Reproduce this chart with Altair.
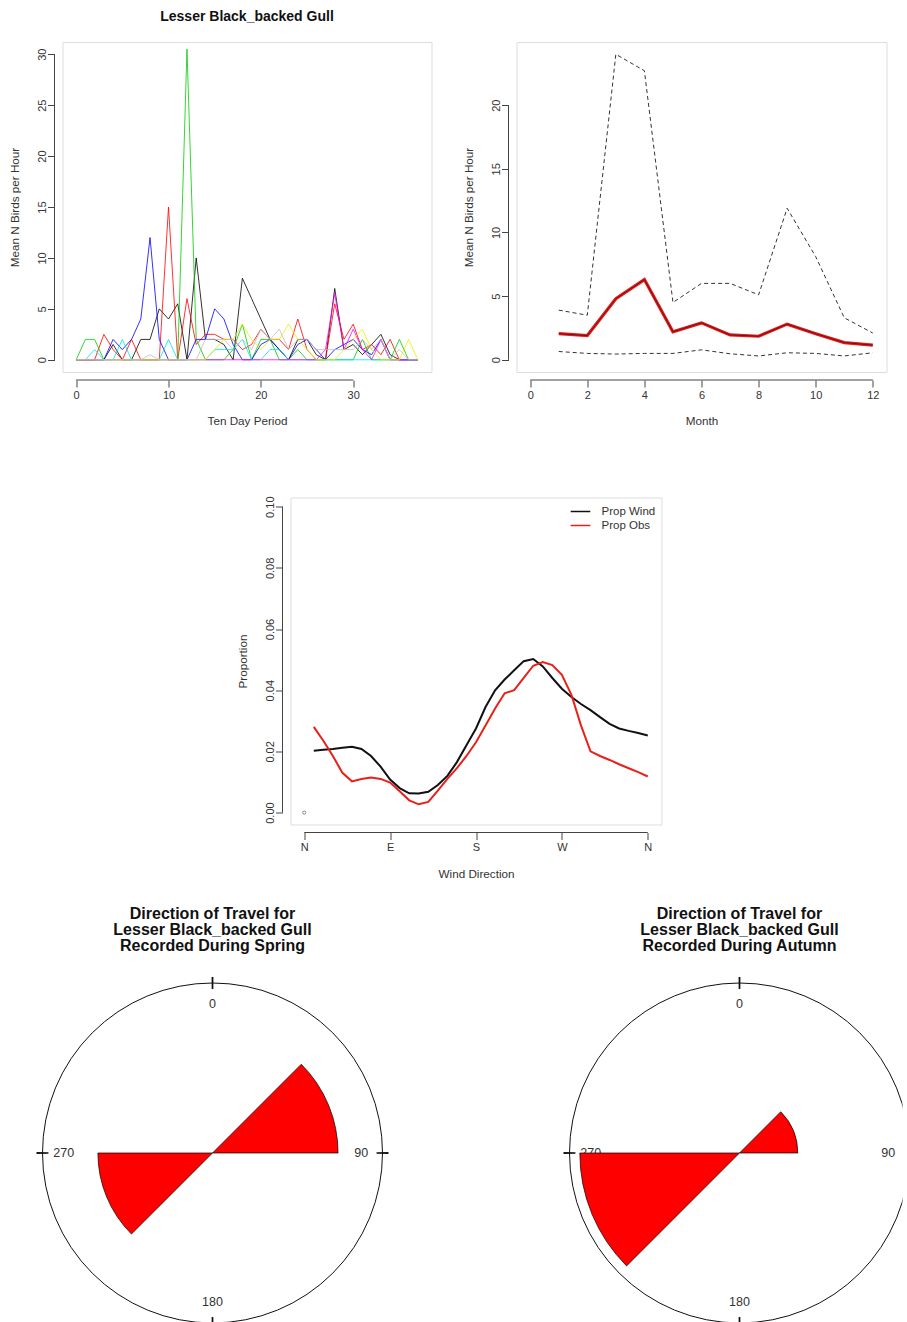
import altair as alt
import pandas as pd
import numpy as np

FONT = "Liberation Sans"
TXT = "#333333"
AXC = "#444444"

# ---------------- Panel 1: ten-day periods ----------------
ten_day = list(range(38))
tl_names = ["s1", "s2", "s3", "s4", "s5", "s6", "s7", "s8"]
tl_colors = ["#000000", "#FF0000", "#00CD00", "#0000FF", "#00E5EE", "#FF00FF", "#EEEE00", "#BEBEBE"]
s_black = [0, 0, 0, 0, 1.5, 0, 0, 2, 2, 5, 4, 5.5, 0, 10, 2, 2, 1.5, 0, 8, 6, 4, 2, 1, 0, 2, 2, 0.5, 0, 7, 1, 1.5, 0.5, 1.5, 2.5, 0.5, 0, 0, 0]
s_red = [0, 0, 0, 2.5, 1, 0, 2, 0, 0, 0, 15, 0, 6, 1.5, 2.5, 2.5, 2, 2, 1, 1.5, 3, 2, 2, 1, 4, 1, 0, 0, 5.5, 2, 3.5, 1, 1.5, 0.5, 2, 0, 0, 0]
s_green = [0, 2, 2, 0, 0, 0, 0, 0, 0, 0, 0, 0, 30.5, 2, 0, 0, 0, 1, 3.5, 0, 2, 2, 0, 0, 1, 0, 0, 0, 0, 0, 0, 2, 0, 0, 0, 2, 0, 0]
s_blue = [0, 0, 0, 0, 2, 1, 2, 4, 12, 2, 0, 0, 0, 2, 2, 5, 4, 1.5, 0, 0, 1.5, 2, 1, 0, 1.5, 2, 1, 0, 1, 1.5, 2, 1, 0.5, 2, 0, 0, 0, 0]
s_cyan = [0, 0, 1, 0, 0, 2, 0, 0, 0, 0, 2, 0, 0, 0, 0, 1, 1, 1, 2, 0, 0, 1, 1, 0, 0, 0, 0, 0, 0, 0, 0, 0, 0, 0, 0, 0, 0, 0]
s_magenta = [0, 0, 0, 0, 0, 0, 0, 0, 0, 0, 0, 0, 0, 0, 0, 0, 0, 0, 0, 0, 0, 0, 0, 0, 0, 0, 0, 1, 6.5, 1, 3, 1, 0, 2, 0, 0, 0, 0]
s_yellow = [0, 0, 0, 0, 0, 0, 0, 0, 0, 0, 0, 0, 0, 0, 0, 1, 2, 2, 3.5, 2, 1, 2, 2, 3.5, 2, 1, 0, 0, 0, 1, 2, 3, 1, 0, 0, 0, 2, 0]
s_gray = [0, 0, 0, 0, 0, 0, 0, 0, 0.5, 0, 0, 0, 0, 0, 2, 2, 2, 1, 2, 1, 3, 2, 3, 1, 2, 2, 1, 1, 1, 1, 1, 2, 1, 2, 0, 1, 0, 0]
tl_series = [s_black, s_red, s_green, s_blue, s_cyan, s_magenta, s_yellow, s_gray]

# ---------------- Panel 2: months ----------------
months = list(range(1, 13))
m_upper = [3.9, 3.5, 24.0, 22.7, 4.5, 6.0, 6.0, 5.1, 11.9, 8.1, 3.3, 2.1]
m_mean = [2.05, 1.9, 4.8, 6.3, 2.2, 2.9, 1.95, 1.85, 2.8, 2.05, 1.35, 1.15]
m_lower = [0.65, 0.5, 0.45, 0.5, 0.5, 0.78, 0.47, 0.3, 0.55, 0.5, 0.3, 0.55]

# ---------------- Panel 3: wind direction ----------------
wind_dir = list(range(10, 361, 10))
prop_wind = [0.0202, 0.0205, 0.0208, 0.0212, 0.0215, 0.0208, 0.0185, 0.0150, 0.0108, 0.0080,
             0.0063, 0.0062, 0.0068, 0.0090, 0.0120, 0.0165, 0.0220, 0.0275, 0.0345, 0.0400,
             0.0435, 0.0465, 0.0495, 0.0502, 0.0478, 0.0440, 0.0405, 0.0378, 0.0355, 0.0335,
             0.0312, 0.0290, 0.0275, 0.0267, 0.0260, 0.0252]
prop_obs = [0.0280, 0.0235, 0.0185, 0.0130, 0.0102, 0.0110, 0.0115, 0.0110, 0.0098, 0.0070,
            0.0040, 0.0027, 0.0035, 0.0072, 0.0110, 0.0145, 0.0185, 0.0230, 0.0285, 0.0340,
            0.0390, 0.0400, 0.0440, 0.0480, 0.0492, 0.0482, 0.0450, 0.0385, 0.0285, 0.0200,
            0.0185, 0.0172, 0.0158, 0.0145, 0.0132, 0.0118]
wind_names = ["Prop Wind", "Prop Obs"]
wind_colors = ["#111111", "#E8201A"]
compass_ticks = [0, 90, 180, 270, 360]

# ---------------- Panels 4/5: rose diagrams ----------------
bin_starts = [0, 45, 90, 135, 180, 225, 270, 315]
bin_width = 45
spring_counts = [0, 6, 0, 0, 0, 5, 0, 0]
autumn_counts = [0, 2, 0, 0, 0, 15, 0, 0]
rose_angles = [0, 90, 180, 270]
rose_labels = ["0", "90", "180", "270"]


def x_axis(values, title, fmt=None, label_expr=None):
    kw = dict(values=values, title=title, offset=8, tickSize=7, tickColor=AXC, tickWidth=1,
              domain=False, grid=False, labelPadding=2, labelFont=FONT, labelFontSize=11,
              labelColor=TXT, labelFlush=False, labelOverlap=False, labelAngle=0,
              titleFont=FONT, titleFontSize=11.7, titleFontWeight="normal", titleColor=TXT,
              titlePadding=15.5)
    if fmt:
        kw["format"] = fmt
    if label_expr:
        kw["labelExpr"] = label_expr
    return alt.Axis(**kw)


def y_axis(values, title, fmt=None):
    kw = dict(values=values, title=title, offset=8, tickSize=7, tickColor=AXC, tickWidth=1,
              domain=False, grid=False, labelPadding=0, labelFont=FONT, labelFontSize=11,
              labelColor=TXT, labelFlush=False, labelOverlap=False, labelAngle=-90,
              labelAlign="center", labelBaseline="bottom",
              titleFont=FONT, titleFontSize=11.7, titleFontWeight="normal", titleColor=TXT,
              titlePadding=16)
    if fmt:
        kw["format"] = fmt
    return alt.Axis(**kw)


one_row = pd.DataFrame({"k": [0]})


def axis_lines(xvals, yvals, h):
    xr = alt.Chart(one_row).mark_rule(color=AXC, strokeWidth=1).encode(
        x=alt.datum(xvals[0]), x2=alt.datum(xvals[-1]), y=alt.value(h + 8))
    yr = alt.Chart(one_row).mark_rule(color=AXC, strokeWidth=1).encode(
        y=alt.datum(yvals[0]), y2=alt.datum(yvals[-1]), x=alt.value(-8))
    return [xr, yr]


def indep(c):
    return c.resolve_scale(color="independent", theta="independent", radius="independent").resolve_legend(
        color="independent")


# ---------- Panel 1 ----------
rows = []
for name, vals in zip(tl_names, tl_series):
    for p, v in zip(ten_day, vals):
        rows.append({"period": p, "value": v, "tseries": name})
tl_df = pd.DataFrame(rows)
H1 = 330
tl_xt = [0, 10, 20, 30]
tl_yt = [0, 5, 10, 15, 20, 25, 30]
tl_lines = alt.Chart(tl_df).mark_line(strokeWidth=1, opacity=0.8).encode(
    x=alt.X("period:Q", scale=alt.Scale(domain=[-1.48, 38.48], nice=False, zero=False),
            axis=x_axis(tl_xt, "Ten Day Period")),
    y=alt.Y("value:Q", scale=alt.Scale(domain=[-1.2, 31.2], nice=False, zero=False),
            axis=y_axis(tl_yt, "Mean N Birds per Hour")),
    color=alt.Color("tseries:N", scale=alt.Scale(domain=tl_names, range=tl_colors), legend=None),
)
tl = alt.layer(tl_lines, *axis_lines(tl_xt, tl_yt, H1)).properties(
    width=369, height=H1,
    title=alt.TitleParams("Lesser Black_backed Gull", font=FONT, fontSize=14, fontWeight="bold",
                          color="#111111", anchor="middle", frame="group", offset=18),
)

# ---------- Panel 2 ----------
tr_df = pd.DataFrame({
    "month": months * 3,
    "value": m_upper + m_mean + m_lower,
    "kind": ["upper"] * 12 + ["mean"] * 12 + ["lower"] * 12,
})
tr_xt = [0, 2, 4, 6, 8, 10, 12]
tr_yt = [0, 5, 10, 15, 20]
TRX = alt.X("month:Q", scale=alt.Scale(domain=[-0.48, 12.48], nice=False, zero=False),
            axis=x_axis(tr_xt, "Month"))
TRY = alt.Y("value:Q", scale=alt.Scale(domain=[-0.96, 24.96], nice=False, zero=False),
            axis=y_axis(tr_yt, "Mean N Birds per Hour"))
tr_dash = alt.Chart(tr_df).transform_filter("datum.kind != 'mean'").mark_line(
    color="#333333", strokeWidth=1, strokeDash=[4, 3]).encode(x=TRX, y=TRY, detail="kind:N")
tr_mean = alt.Chart(tr_df).transform_filter("datum.kind == 'mean'").mark_line(
    color="#E81A1A", strokeWidth=3.2).encode(x=TRX, y=TRY)
tr_core = alt.Chart(tr_df).transform_filter("datum.kind == 'mean'").mark_line(
    color="#6a1515", strokeWidth=1).encode(x=TRX, y=TRY)
tr = alt.layer(tr_dash, tr_mean, tr_core, *axis_lines(tr_xt, tr_yt, H1)).properties(width=370, height=H1)

# ---------- Spacer (left of the centred middle panel) ----------
H2 = 327
spacer = alt.Chart(one_row).mark_point(opacity=0).encode(
    x=alt.value(0), y=alt.value(0)).properties(
    width=143, height=400, view=alt.ViewBackground(stroke="transparent"))

# ---------- Panel 3 ----------
n = len(wind_dir)
mid_df = pd.DataFrame({
    "dir": wind_dir * 2,
    "prop": prop_wind + prop_obs,
    "wseries": [wind_names[0]] * n + [wind_names[1]] * n,
})
mid_yt = [0, 0.02, 0.04, 0.06, 0.08, 0.10]
MX = alt.X("dir:Q", scale=alt.Scale(domain=[-14.4, 374.4], nice=False, zero=False),
           axis=x_axis(compass_ticks, "Wind Direction",
                       label_expr="datum.value == 90 ? 'E' : datum.value == 180 ? 'S' : datum.value == 270 ? 'W' : 'N'"))
MY = alt.Y("prop:Q", scale=alt.Scale(domain=[-0.0039, 0.1030], nice=False, zero=False),
           axis=y_axis(mid_yt, "Proportion", fmt=".2f"))
mid_lines = alt.Chart(mid_df).mark_line(strokeWidth=2).encode(
    x=MX, y=MY,
    color=alt.Color("wseries:N", scale=alt.Scale(domain=wind_names, range=wind_colors),
                    legend=alt.Legend(title=None, orient="none", legendX=282, legendY=6,
                                      symbolType="M-1.4,0L1.4,0", symbolSize=196,
                                      symbolStrokeWidth=1.5, labelFont=FONT, labelFontSize=11.5,
                                      labelColor=TXT, labelOffset=13, rowPadding=0, padding=0)),
)
mid_pt = alt.Chart(pd.DataFrame({"dir": [0], "prop": [0.0]})).mark_point(
    shape="circle", size=10, filled=False, color="#333333", strokeWidth=0.8).encode(x=MX, y=MY)
mid = alt.layer(mid_lines, mid_pt, *axis_lines([0, 360], [0, 0.10], H2)).properties(width=371, height=H2)

# ---------- Panels 4/5 ----------
H3 = 368
R = 170.0
CY = 198.0


def rose(counts, season, width, cx, dx, clip):
    total = float(sum(counts))
    w = pd.DataFrame({"start": bin_starts, "end": [b + bin_width for b in bin_starts], "count": counts})
    w = w[w["count"] > 0].copy()
    w["r"] = np.sqrt(w["count"] / total)
    w["cx"] = 0.0
    w["cy"] = 0.0
    circ = pd.DataFrame({"start": [0], "end": [360], "r": [1.0], "cx": [0.0], "cy": [0.0]})
    ticks = pd.DataFrame({"start": [a - 0.3 for a in rose_angles], "end": [a + 0.3 for a in rose_angles],
                          "r": [1.035] * 4, "r2": [0.965] * 4, "cx": [0.0] * 4, "cy": [0.0] * 4})
    labs = pd.DataFrame({"start": rose_angles, "lab": rose_labels, "r": [0.875] * 4,
                         "cx": [0.0] * 4, "cy": [0.0] * 4})
    X = alt.X("cx:Q", scale=alt.Scale(domain=[-cx / R, (width - cx) / R], nice=False, zero=False), axis=None)
    Y = alt.Y("cy:Q", scale=alt.Scale(domain=[-(H3 - CY) / R, CY / R], nice=False, zero=False), axis=None)
    tsc = alt.Scale(domain=[0, 360], range=[0, 2 * np.pi])
    rsc = alt.Scale(type="linear", domain=[0, 1], range=[0, R], zero=True)
    TH = alt.Theta("start:Q", scale=tsc, stack=False)
    RD = alt.Radius("r:Q", scale=rsc)
    lb = alt.Chart(labs).mark_text(font=FONT, fontSize=12.5, color=TXT, align="center",
                                   baseline="middle", clip=clip).encode(
        x=X, y=Y, theta=TH, radius=RD, text="lab:N")
    wedges = alt.Chart(w).mark_arc(color="#FF0000", stroke="#000000", strokeWidth=0.7, clip=clip).encode(
        x=X, y=Y, theta=TH, theta2="end:Q", radius=RD)
    circle = alt.Chart(circ).mark_arc(filled=False, color="#111111", strokeWidth=1, clip=clip).encode(
        x=X, y=Y, theta=TH, theta2="end:Q", radius=RD)
    tk = alt.Chart(ticks).mark_arc(color="#111111", clip=clip).encode(
        x=X, y=Y, theta=TH, theta2="end:Q", radius=RD, radius2="r2:Q")
    return alt.layer(lb, wedges, circle, tk).properties(
        width=width, height=H3, view=alt.ViewBackground(stroke="transparent"),
        title=alt.TitleParams(["Direction of Travel for", "Lesser Black_backed Gull", "Recorded During " + season],
                              font=FONT, fontSize=16, fontWeight="bold", color="#111111",
                              anchor="middle", frame="group", offset=1, lineHeight=16, dx=dx),
    )


spring = rose(spring_counts, "Spring", 300, 150.0, 0, False)
autumn = rose(autumn_counts, "Autumn", 540, 377.0, 107, True)

row1 = indep(alt.hconcat(tl, tr, spacing=85, bounds="flush"))
row2 = indep(alt.hconcat(spacer, mid, spacing=85, bounds="flush"))
row3 = indep(alt.hconcat(spring, autumn, spacing=0, bounds="flush"))
upper = indep(alt.vconcat(row1, row2, spacing=65.5))
chart = indep(alt.vconcat(upper, row3, spacing=7)).properties(
    padding={"left": 8.5, "top": 9, "right": 0, "bottom": 0},
).configure_view(stroke="#666666", strokeWidth=1.2).configure(font=FONT, background="white")

chart.save("out.html", embed_options={"renderer": "svg", "actions": False})
